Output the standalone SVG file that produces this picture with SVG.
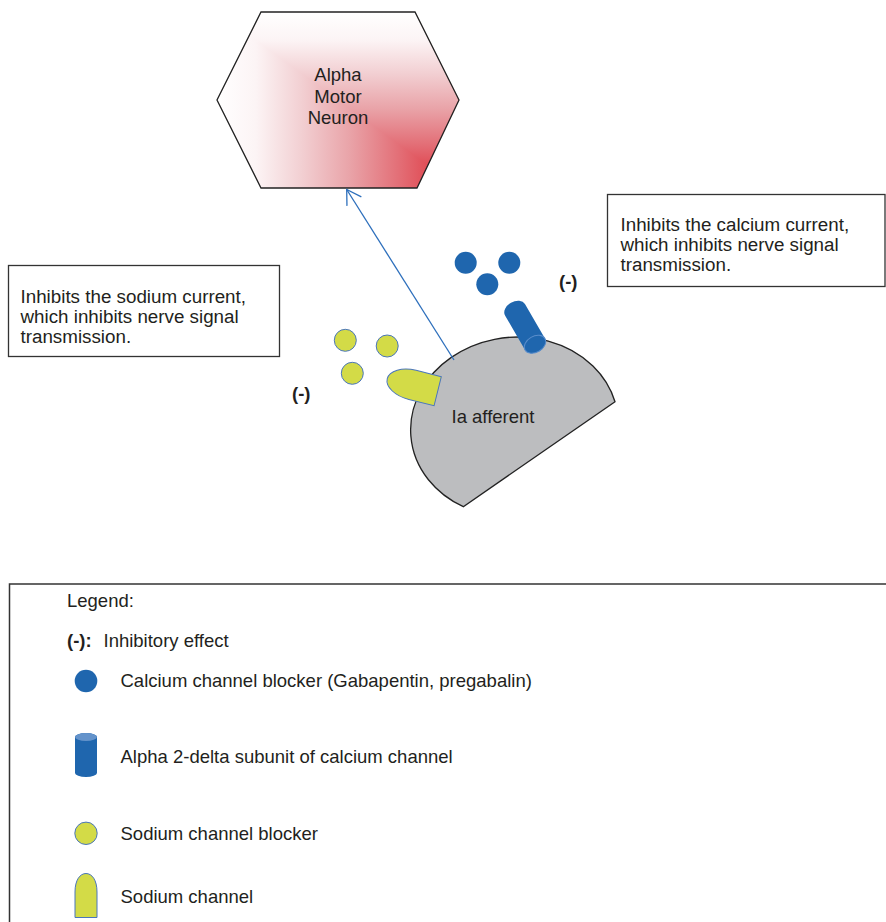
<svg xmlns="http://www.w3.org/2000/svg" width="886" height="922" viewBox="0 0 886 922">
  <style>
    text { font-family: "Liberation Sans", Arial, Helvetica, sans-serif; fill: #231f20; }
    .lbl { font-size: 18.5px; }
    .note { font-size: 18.8px; }
    .neg { font-size: 18.5px; font-weight: bold; }
    .box { fill: #ffffff; stroke: #333333; stroke-width: 1.3; }
    .ca { fill: #1f66ae; }
    .na { fill: #d3db47; stroke: #4a76bd; stroke-width: 1; }
    .can { fill: #1f66ae; }
    .edge { fill: none; stroke: #2d6fbc; stroke-width: 1.3; }
  </style>
  <defs>
    <!-- corner-based shading of the neuron: vertical bands below the diagonal, horizontal bands above it -->
    <linearGradient id="redX" gradientUnits="userSpaceOnUse" x1="217" y1="0" x2="459" y2="0">
      <stop offset="0" stop-color="#ffffff"/>
      <stop offset="0.16" stop-color="#fcf4f5"/>
      <stop offset="0.35" stop-color="#f2cfd2"/>
      <stop offset="0.55" stop-color="#e9a3a8"/>
      <stop offset="0.75" stop-color="#e36f77"/>
      <stop offset="0.9" stop-color="#e0464f"/>
      <stop offset="1" stop-color="#de2f3b"/>
    </linearGradient>
    <linearGradient id="redY" gradientUnits="userSpaceOnUse" x1="0" y1="12" x2="0" y2="188">
      <stop offset="0" stop-color="#ffffff"/>
      <stop offset="0.16" stop-color="#fcf4f5"/>
      <stop offset="0.35" stop-color="#f2cfd2"/>
      <stop offset="0.55" stop-color="#e9a3a8"/>
      <stop offset="0.75" stop-color="#e36f77"/>
      <stop offset="0.9" stop-color="#e0464f"/>
      <stop offset="1" stop-color="#de2f3b"/>
    </linearGradient>
    <clipPath id="hexClip">
      <polygon points="261,12 415,12 459,100 417,188 261,188 217,100"/>
    </clipPath>
    <marker id="openArrow" markerUnits="userSpaceOnUse" viewBox="-16 -10 18 20" refX="0" refY="0" markerWidth="18" markerHeight="20" orient="auto">
      <path d="M-14,-8.5 L0,0 L-14,8.5" fill="none" stroke="#2d6fbc" stroke-width="1.3"/>
    </marker>
  </defs>

  <!-- Alpha motor neuron -->
  <g id="alpha-motor-neuron">
    <g clip-path="url(#hexClip)">
      <rect x="217" y="12" width="242" height="176" fill="url(#redX)"/>
      <polygon points="217,12 459,12 459,188" fill="url(#redY)"/>
    </g>
    <polygon points="261,12 415,12 459,100 417,188 261,188 217,100" fill="none" stroke="#222222" stroke-width="1.3"/>
    <text class="lbl" x="338" y="81" text-anchor="middle">Alpha</text>
    <text class="lbl" x="338" y="102.5" text-anchor="middle">Motor</text>
    <text class="lbl" x="338" y="124" text-anchor="middle">Neuron</text>
  </g>

  <!-- Ia afferent terminal: elliptical segment cut by a straight chord -->
  <g id="ia-afferent">
    <path d="M463.3,506.7 A104,89.8 -6.3 1 1 615,401.7 Z" fill="#bcbdbf" stroke="#222222" stroke-width="1.3"/>
    <text class="lbl" x="493" y="422.7" text-anchor="middle">Ia afferent</text>
  </g>

  <!-- sodium channel in the membrane -->
  <g id="sodium-channel">
    <path class="na" transform="translate(437.7,391.2) rotate(14)" d="M0,-15 L-26,-15 A26,15 0 0 0 -26,15 L0,15 Z"/>
  </g>

  <!-- alpha 2-delta subunit of the calcium channel -->
  <g id="alpha2delta-subunit" transform="translate(525,327) rotate(150)">
    <path class="can" d="M-11.5,-20 A11.5,8 0 0 1 11.5,-20 L11.5,20 A11.5,8 0 0 1 -11.5,20 Z"/>
    <ellipse cx="0" cy="-20" rx="11.5" ry="8" fill="#1f66ae" stroke="#5a8dcb" stroke-width="1"/>
  </g>

  <!-- calcium channel blockers -->
  <g id="calcium-blockers">
    <circle class="ca" cx="465.7" cy="262.7" r="11"/>
    <circle class="ca" cx="509.3" cy="262.7" r="11"/>
    <circle class="ca" cx="487.3" cy="284.3" r="11"/>
  </g>

  <!-- sodium channel blockers -->
  <g id="sodium-blockers">
    <circle class="na" cx="345.3" cy="340.3" r="11"/>
    <circle class="na" cx="387.2" cy="346" r="11"/>
    <circle class="na" cx="352.3" cy="373.3" r="11"/>
  </g>

  <!-- inhibitory marks -->
  <g id="inhibit-sodium">
    <text class="neg" x="292" y="400">(-)</text>
  </g>
  <g id="inhibit-calcium">
    <text class="neg" x="559" y="288">(-)</text>
  </g>

  <!-- callouts -->
  <g id="note-sodium">
    <rect class="box" x="8.5" y="265.5" width="271" height="91"/>
    <text class="note" x="20.5" y="303">Inhibits the sodium current,</text>
    <text class="note" x="20.5" y="323">which inhibits nerve signal</text>
    <text class="note" x="20.5" y="343">transmission.</text>
  </g>
  <g id="note-calcium">
    <rect class="box" x="607.5" y="194.5" width="277.5" height="92"/>
    <text class="note" x="620.5" y="231">Inhibits the calcium current,</text>
    <text class="note" x="620.5" y="251">which inhibits nerve signal</text>
    <text class="note" x="620.5" y="271">transmission.</text>
  </g>

  <!-- connectors -->
  <g id="connectors">
    <line class="edge" x1="454" y1="360" x2="346.7" y2="189.5" marker-end="url(#openArrow)"/>
  </g>

  <!-- legend -->
  <g id="legend">
    <rect x="9.5" y="584" width="900" height="400" fill="none" stroke="#333333" stroke-width="1.5"/>
    <text class="lbl" x="67" y="607">Legend:</text>
    <text class="neg" x="67" y="647">(-):</text>
    <text class="lbl" x="103.5" y="647">Inhibitory effect</text>

    <circle class="ca" cx="86" cy="681" r="11.3"/>
    <text class="lbl" x="120.5" y="687">Calcium channel blocker (Gabapentin, pregabalin)</text>

    <path class="can" d="M75,737 A11,4 0 0 1 97,737 L97,773 A11,4 0 0 1 75,773 Z"/>
    <ellipse cx="86" cy="737" rx="11" ry="4" fill="#6493cb"/>
    <text class="lbl" x="120.5" y="763">Alpha 2-delta subunit of calcium channel</text>

    <circle class="na" cx="86" cy="833.3" r="11.2"/>
    <text class="lbl" x="120.5" y="840">Sodium channel blocker</text>

    <path class="na" d="M75,917.5 L75,892 C75,880 80,873.5 86,873.5 C92,873.5 97,880 97,892 L97,917.5 Z"/>
    <text class="lbl" x="120.5" y="903">Sodium channel</text>
  </g>
</svg>
